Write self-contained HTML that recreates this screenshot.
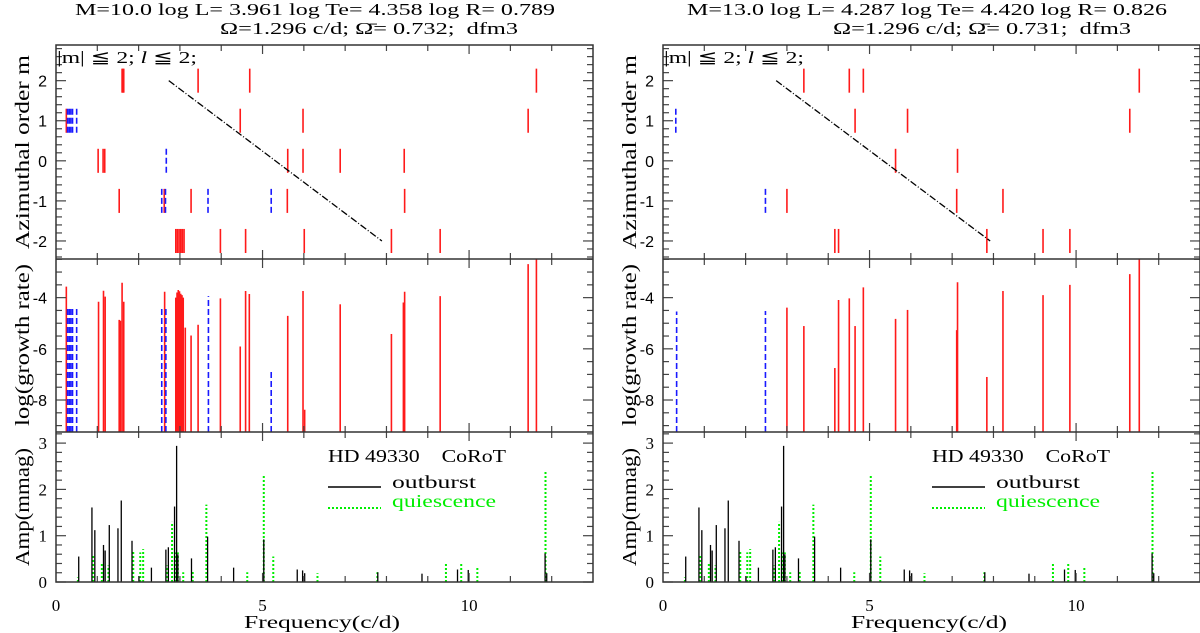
<!DOCTYPE html>
<html><head><meta charset="utf-8"><style>
html,body{margin:0;padding:0;background:#fff;}
svg{display:block;font-family:"Liberation Serif","DejaVu Serif",serif;}
svg text{white-space:pre;}
</style></head><body>
<svg id="chart" width="1200" height="633" viewBox="0 0 1200 633" xmlns="http://www.w3.org/2000/svg">
<g id="titles" font-size="17" fill="#000">
<text x="315" y="15" text-anchor="middle" textLength="480" lengthAdjust="spacingAndGlyphs">M=10.0 log L= 3.961 log Te= 4.358 log R= 0.789</text>
<text x="369" y="34" text-anchor="middle" textLength="298" lengthAdjust="spacingAndGlyphs">Ω=1.296 c/d; Ω̄= 0.732;  dfm3</text>
<text x="927" y="15" text-anchor="middle" textLength="480" lengthAdjust="spacingAndGlyphs">M=13.0 log L= 4.287 log Te= 4.420 log R= 0.826</text>
<text x="982" y="34" text-anchor="middle" textLength="298" lengthAdjust="spacingAndGlyphs">Ω=1.296 c/d; Ω̄= 0.731;  dfm3</text>
</g>
</svg>
<script>
// ---- data ----
const xTicks = [0, 5, 10];
const mTicks = [2, 1, 0, -1, -2];
const logTicks = [-4, -6, -8];
const ampTicks = [0, 1, 2, 3];

const leftTopRedFreq = [1.60,1.62,1.64,3.44,4.69,11.63, 0.25,4.46,5.98,11.43, 1.02,1.14,1.18,5.61,5.98,6.88,8.43, 1.53,2.62,3.27,5.60,8.44, 2.90,2.94,2.98,3.02,3.06,3.10,3.98,4.59,6.01,8.12,9.30];
const leftTopRedM    = [2,2,2,2,2,2, 1,1,1,1, 0,0,0,0,0,0,0, -1,-1,-1,-1,-1, -2,-2,-2,-2,-2,-2,-2,-2,-2,-2,-2];
const leftTopBlueFreq = [0.28,0.32,0.36,0.40,0.50, 2.67, 2.56,2.65,3.68,5.21];
const leftTopBlueM    = [1,1,1,1,1, 0, -1,-1,-1,-1];

const leftMidRedFreq = [0.25,1.03,1.15,1.19,1.53,1.56,1.60,1.64,2.63,2.90,2.93,2.96,2.99,3.02,3.05,3.08,3.13,3.27,3.44,3.98,4.46,4.59,4.68,5.61,5.98,6.02,6.88,8.12,8.41,8.44,9.30,11.43,11.63];
const leftMidRedLog  = [-3.57,-4.16,-3.73,-3.96,-4.87,-4.9,-3.42,-4.16,-3.77,-4.0,-3.8,-3.7,-3.75,-3.85,-3.9,-4.0,-5.17,-5.48,-5.06,-4.03,-5.91,-3.74,-3.86,-4.71,-3.74,-8.38,-4.26,-5.42,-4.19,-3.77,-3.94,-2.69,-2.5];
const leftMidBlueFreq = [0.28,0.32,0.36,0.40,0.50,2.56,2.66,3.69,5.21];
const leftMidBlueLog  = [-4.42,-4.42,-4.42,-4.42,-4.35,-4.35,-4.35,-3.94,-6.9];

const rightTopRedFreq = [3.41,4.51,4.85,11.53, 4.65,5.92,11.30, 5.63,7.13, 3.00,7.11,8.23, 4.16,4.25,7.84,9.20,9.85];
const rightTopRedM    = [2,2,2,2, 1,1,1, 0,0, -1,-1,-1, -2,-2,-2,-2,-2];
const rightTopBlueFreq = [0.31, 2.48];
const rightTopBlueM    = [1, -1];

const rightMidRedFreq = [3.00,3.41,4.16,4.25,4.51,4.65,4.85,5.63,5.92,7.11,7.13,7.84,8.23,9.20,9.85,11.30,11.53];
const rightMidRedLog  = [-4.39,-5.11,-6.75,-4.09,-4.03,-5.11,-3.6,-4.83,-4.48,-5.27,-3.4,-7.1,-3.74,-3.9,-3.5,-3.08,-2.5];
const rightMidBlueFreq = [0.33, 2.48];
const rightMidBlueLog  = [-4.54, -4.52];

const leftDiagFreq = [2.73, 7.89];
const leftDiagM = [2, -2];
const rightDiagFreq = [2.74, 7.92];
const rightDiagM = [2, -2];

const outburstFreq = [0.55,0.87,0.94,1.15,1.19,1.29,1.50,1.58,1.84,2.01,2.31,2.66,2.72,2.87,2.92,2.95,3.28,3.67,4.30,5.03,5.84,5.97,6.02,7.79,8.86,9.72,9.98,11.84,11.88];
const outburstAmp  = [0.55,1.61,1.12,0.80,0.68,1.23,1.16,1.76,0.89,0.12,0.31,0.70,0.75,1.63,2.94,0.60,0.51,0.98,0.31,0.92,0.27,0.25,0.19,0.21,0.18,0.27,0.26,0.62,0.19];
const quiesFreq = [0.53,0.90,1.11,1.27,1.87,2.04,2.11,2.70,2.81,2.88,2.95,3.08,3.31,3.64,4.63,5.03,5.26,6.33,7.78,9.44,9.81,10.2,11.85];
const quiesAmp  = [0.10,0.57,0.39,0.36,0.68,0.64,0.71,0.36,1.30,0.64,0.64,0.21,0.23,1.67,0.21,2.30,0.55,0.19,0.21,0.39,0.41,0.31,2.40];

// ---- layout ----
const NS = "http://www.w3.org/2000/svg";
const svg = document.getElementById('chart');
const X0 = 0, X1 = 13;
const panY = {top:[45,259], mid:[259,432], bot:[432,582]};
const dom = {top:[-2.45,2.89], mid:[-9.25,-2.49], bot:[0,3.24]};

function mk(tag, attrs, parent){
  const e = document.createElementNS(NS, tag);
  for (const k in attrs) e.setAttribute(k, attrs[k]);
  (parent||svg).appendChild(e);
  return e;
}

function drawPanel(side, left, d){
  const right = left + 537;
  const xs = f => left + (f - X0) / (X1 - X0) * 537;
  const ys = (p, v) => { const [a,b]=panY[p], [lo,hi]=dom[p]; return b - (v-lo)/(hi-lo)*(b-a); };
  const g = mk('g', {});
  
  

  for (let i=0;i<d.topRedF.length;i++){
    const l = mk('line',{x1:xs(d.topRedF[i]),x2:xs(d.topRedF[i]),y1:ys('top',d.topRedM[i]+0.3),y2:ys('top',d.topRedM[i]-0.3),stroke:'#ff1a1a','stroke-width':1.6},g);
    
    
  }
  for (let i=0;i<d.topBlueF.length;i++){
    const l = mk('line',{x1:xs(d.topBlueF[i]),x2:xs(d.topBlueF[i]),y1:ys('top',d.topBlueM[i]+0.3),y2:ys('top',d.topBlueM[i]-0.3),stroke:'#1a1aff','stroke-width':1.6,'stroke-dasharray':'6 3'},g);
    
    
  }
  const dg = mk('line',{x1:xs(d.diagF[0]),y1:ys('top',d.diagM[0]),x2:xs(d.diagF[1]),y2:ys('top',d.diagM[1]),stroke:'#000','stroke-width':1.3,'stroke-dasharray':'7 2 1 2'},g);
  
  

  for (let i=0;i<d.midRedF.length;i++){
    const l = mk('line',{x1:xs(d.midRedF[i]),x2:xs(d.midRedF[i]),y1:panY.mid[1],y2:ys('mid',d.midRedL[i]),stroke:'#ff1a1a','stroke-width':1.6},g);
    
    
  }
  for (let i=0;i<d.midBlueF.length;i++){
    const l = mk('line',{x1:xs(d.midBlueF[i]),x2:xs(d.midBlueF[i]),y1:panY.mid[1],y2:ys('mid',d.midBlueL[i]),stroke:'#1a1aff','stroke-width':1.6,'stroke-dasharray':'6 3'},g);
    
    
  }

  for (let i=0;i<quiesFreq.length;i++){
    const l = mk('line',{x1:xs(quiesFreq[i]),x2:xs(quiesFreq[i]),y1:panY.bot[1],y2:ys('bot',quiesAmp[i]),stroke:'#00ee00','stroke-width':2,'stroke-dasharray':'2 2'},g);
    
    
  }
  for (let i=0;i<outburstFreq.length;i++){
    const l = mk('line',{x1:xs(outburstFreq[i]),x2:xs(outburstFreq[i]),y1:panY.bot[1],y2:ys('bot',outburstAmp[i]),stroke:'#000','stroke-width':1.3},g);
    
    
  }

  const tk = mk('g',{stroke:'#444','stroke-width':1.2},g);
  
  
  for (const p of ['top','mid','bot']){
    const [a,b] = panY[p];
    for (let f=1; f<13; f++){
      const len = (f%5===0)?9:6;
      mk('line',{x1:xs(f),x2:xs(f),y1:b,y2:b-len},tk);
      mk('line',{x1:xs(f),x2:xs(f),y1:a,y2:a+len},tk);
    }
    const [lo,hi] = dom[p];
    const minor = p==='mid'?0.5:0.2, major = p==='mid'?2:1;
    for (let v=Math.ceil(lo/minor)*minor; v<=hi+1e-9; v+=minor){
      const r = Math.abs(v/major - Math.round(v/major))<1e-6;
      const len = r?10:6, y = ys(p,v);
      mk('line',{x1:left,x2:left+len,y1:y,y2:y},tk);
      mk('line',{x1:right,x2:right-len,y1:y,y2:y},tk);
    }
  }
  const fr = mk('g',{stroke:'#333','stroke-width':1.5,fill:'none'},g);
  
  
  mk('rect',{x:left,y:panY.top[0],width:537,height:panY.bot[1]-panY.top[0]},fr);
  mk('line',{x1:left,x2:right,y1:panY.mid[0],y2:panY.mid[0]},fr);
  mk('line',{x1:left,x2:right,y1:panY.bot[0],y2:panY.bot[0]},fr);

  const lb = mk('g',{fill:'#000','font-size':17},g);
  for (const v of xTicks){
    const t = mk('text',{x:xs(v),y:611,'text-anchor':'middle'},lb); t.textContent = v;
    
    
  }
  for (const v of mTicks){
    const t = mk('text',{x:left-9,y:ys('top',v)+6,'text-anchor':'end','font-family':'Liberation Sans, sans-serif','font-size':16},lb); t.textContent = v;
    
    
  }
  for (const v of logTicks){
    const t = mk('text',{x:left-9,y:ys('mid',v)+6,'text-anchor':'end','font-family':'Liberation Sans, sans-serif','font-size':16},lb); t.textContent = v;
    
    
  }
  for (const v of ampTicks){
    const t = mk('text',{x:left-9,y:ys('bot',v)+6,'text-anchor':'end'},lb); t.textContent = v;
    
    
  }
  const yl = [['Azimuthal order m',152,194,'y-axis-title-m'],['log(growth rate)',345,162,'y-axis-title-growth'],['Amp(mmag)',507,118,'y-axis-title-amp']];
  for (const [s,cy,len,nm] of yl){
    const t = mk('text',{x:0,y:0,'text-anchor':'middle','font-size':20,textLength:len,lengthAdjust:'spacingAndGlyphs',transform:`translate(${left-27},${cy}) rotate(-90)`},lb);
    t.textContent = s;
    
    
  }
  const xt = mk('text',{x:left+266,y:628,'text-anchor':'middle','font-size':18,textLength:156,lengthAdjust:'spacingAndGlyphs'},lb);
  xt.textContent = 'Frequency(c/d)';
  
  
  const sel = mk('text',{x:left+1,y:63,'font-size':17,textLength:140,lengthAdjust:'spacingAndGlyphs'},lb);
  sel.textContent = '|m| ≦ 2; ';
  const it = mk('tspan',{'font-style':'italic'},sel); it.textContent='l';
  const rest = mk('tspan',{},sel); rest.textContent=' ≦ 2;';
  
  

  const lg = mk('g',{'font-size':18},g);
  
  
  const lx = left + d.legendDx;
  const h = mk('text',{x:lx,y:462,textLength:178,lengthAdjust:'spacingAndGlyphs'},lg); h.textContent='HD 49330    CoRoT';
  
  
  const l1 = mk('line',{x1:lx,x2:lx+53,y1:487,y2:487,stroke:'#000','stroke-width':1.5},lg);
  
  
  const t1 = mk('text',{x:lx+64,y:488,textLength:84,lengthAdjust:'spacingAndGlyphs'},lg); t1.textContent='outburst';
  
  
  const l2 = mk('line',{x1:lx,x2:lx+53,y1:508,y2:508,stroke:'#00ee00','stroke-width':2,'stroke-dasharray':'2 2'},lg);
  
  
  const t2 = mk('text',{x:lx+64,y:507,fill:'#00ee00',textLength:104,lengthAdjust:'spacingAndGlyphs'},lg); t2.textContent='quiescence';
  
  
}

drawPanel('left', 56, {topRedF:leftTopRedFreq, topRedM:leftTopRedM, topBlueF:leftTopBlueFreq, topBlueM:leftTopBlueM,
  midRedF:leftMidRedFreq, midRedL:leftMidRedLog, midBlueF:leftMidBlueFreq, midBlueL:leftMidBlueLog,
  diagF:leftDiagFreq, diagM:leftDiagM, legendDx:272});
drawPanel('right', 663, {topRedF:rightTopRedFreq, topRedM:rightTopRedM, topBlueF:rightTopBlueFreq, topBlueM:rightTopBlueM,
  midRedF:rightMidRedFreq, midRedL:rightMidRedLog, midBlueF:rightMidBlueFreq, midBlueL:rightMidBlueLog,
  diagF:rightDiagFreq, diagM:rightDiagM, legendDx:269});
</script>
</body></html>
